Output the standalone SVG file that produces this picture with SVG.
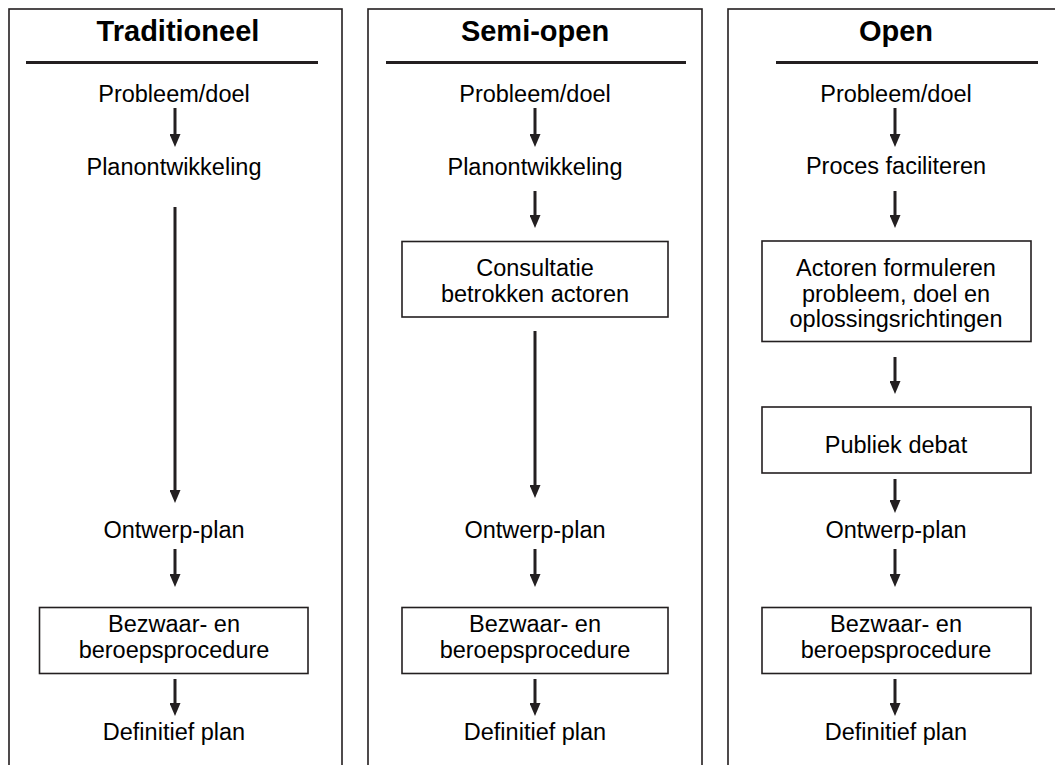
<svg xmlns="http://www.w3.org/2000/svg" width="1055" height="765" viewBox="0 0 1055 765">
<defs>
<style>
.panel{fill:none;stroke:#231f20;stroke-width:1.6}
.sep{stroke:#231f20;stroke-width:3}
.box{fill:#fff;stroke:#231f20;stroke-width:1.6}
.title{font-family:"Liberation Sans",Arial,sans-serif;font-weight:bold;font-size:29px;fill:#000;text-anchor:middle}
.t{font-family:"Liberation Sans",Arial,sans-serif;font-size:23.5px;fill:#000;text-anchor:middle}
.arr{stroke:#231f20;stroke-width:3;fill:none;marker-end:url(#ah)}
</style>
<marker id="ah" viewBox="0 0 13 11" refX="7" refY="5.5" markerWidth="13" markerHeight="11" markerUnits="userSpaceOnUse" orient="auto">
<path d="M0,0 L13,5.5 L0,11 z" fill="#231f20"/>
</marker>
</defs>
<rect width="1055" height="765" fill="#fff"/>

<g id="panel-traditioneel">
<rect class="panel" x="9" y="9" width="333" height="800"/>
<text class="title" x="178" y="41">Traditioneel</text>
<line class="sep" x1="26" y1="62.5" x2="318" y2="62.5"/>
</g>
<g id="panel-semiopen">
<rect class="panel" x="368" y="9" width="334" height="800"/>
<text class="title" x="535" y="41">Semi-open</text>
<line class="sep" x1="386" y1="62.5" x2="686" y2="62.5"/>
</g>
<g id="panel-open">
<rect class="panel" x="728" y="9" width="360" height="800"/>
<text class="title" x="896" y="41">Open</text>
<line class="sep" x1="776" y1="62.5" x2="1038" y2="62.5"/>
</g>

<g id="t-probleem"><text class="t" x="174" y="102">Probleem/doel</text></g>
<g id="t-plan"><text class="t" x="174" y="175">Planontwikkeling</text></g>
<g id="t-ontwerp"><text class="t" x="174" y="538">Ontwerp-plan</text></g>
<g id="t-bezwaar"><rect class="box" x="39.5" y="607.5" width="268.5" height="66"/><text class="t" x="174" y="632">Bezwaar- en</text><text class="t" x="174" y="657.5">beroepsprocedure</text></g>
<g id="t-definitief"><text class="t" x="174" y="740">Definitief plan</text></g>

<g id="s-probleem"><text class="t" x="535" y="102">Probleem/doel</text></g>
<g id="s-plan"><text class="t" x="535" y="175">Planontwikkeling</text></g>
<g id="s-consultatie"><rect class="box" x="402" y="241.5" width="266" height="75.5"/><text class="t" x="535" y="275.5">Consultatie</text><text class="t" x="535" y="301.5">betrokken actoren</text></g>
<g id="s-ontwerp"><text class="t" x="535" y="538">Ontwerp-plan</text></g>
<g id="s-bezwaar"><rect class="box" x="402" y="607.5" width="266" height="66"/><text class="t" x="535" y="632">Bezwaar- en</text><text class="t" x="535" y="657.5">beroepsprocedure</text></g>
<g id="s-definitief"><text class="t" x="535" y="740">Definitief plan</text></g>

<g id="o-probleem"><text class="t" x="896" y="102">Probleem/doel</text></g>
<g id="o-proces"><text class="t" x="896" y="174">Proces faciliteren</text></g>
<g id="o-actoren"><rect class="box" x="762" y="241" width="269" height="100.5"/><text class="t" x="896" y="275.5">Actoren formuleren</text><text class="t" x="896" y="301.5">probleem, doel en</text><text class="t" x="896" y="327">oplossingsrichtingen</text></g>
<g id="o-debat"><rect class="box" x="762" y="407" width="269" height="66"/><text class="t" x="896" y="453">Publiek debat</text></g>
<g id="o-ontwerp"><text class="t" x="896" y="538">Ontwerp-plan</text></g>
<g id="o-bezwaar"><rect class="box" x="762" y="607.5" width="269" height="66"/><text class="t" x="896" y="632">Bezwaar- en</text><text class="t" x="896" y="657.5">beroepsprocedure</text></g>
<g id="o-definitief"><text class="t" x="896" y="740">Definitief plan</text></g>

<g id="connectors">
<line class="arr" x1="175" y1="108" x2="175" y2="141"/>
<line class="arr" x1="175" y1="207" x2="175" y2="497"/>
<line class="arr" x1="175" y1="549" x2="175" y2="581"/>
<line class="arr" x1="175" y1="679" x2="175" y2="710"/>

<line class="arr" x1="535" y1="108" x2="535" y2="141"/>
<line class="arr" x1="535" y1="191" x2="535" y2="222"/>
<line class="arr" x1="535" y1="331" x2="535" y2="492"/>
<line class="arr" x1="535" y1="549" x2="535" y2="581"/>
<line class="arr" x1="535" y1="679" x2="535" y2="710"/>

<line class="arr" x1="895" y1="108" x2="895" y2="141"/>
<line class="arr" x1="895" y1="191" x2="895" y2="222"/>
<line class="arr" x1="895" y1="357" x2="895" y2="388"/>
<line class="arr" x1="895" y1="479" x2="895" y2="507"/>
<line class="arr" x1="895" y1="549" x2="895" y2="581"/>
<line class="arr" x1="895" y1="679" x2="895" y2="710"/>
</g>
</svg>
